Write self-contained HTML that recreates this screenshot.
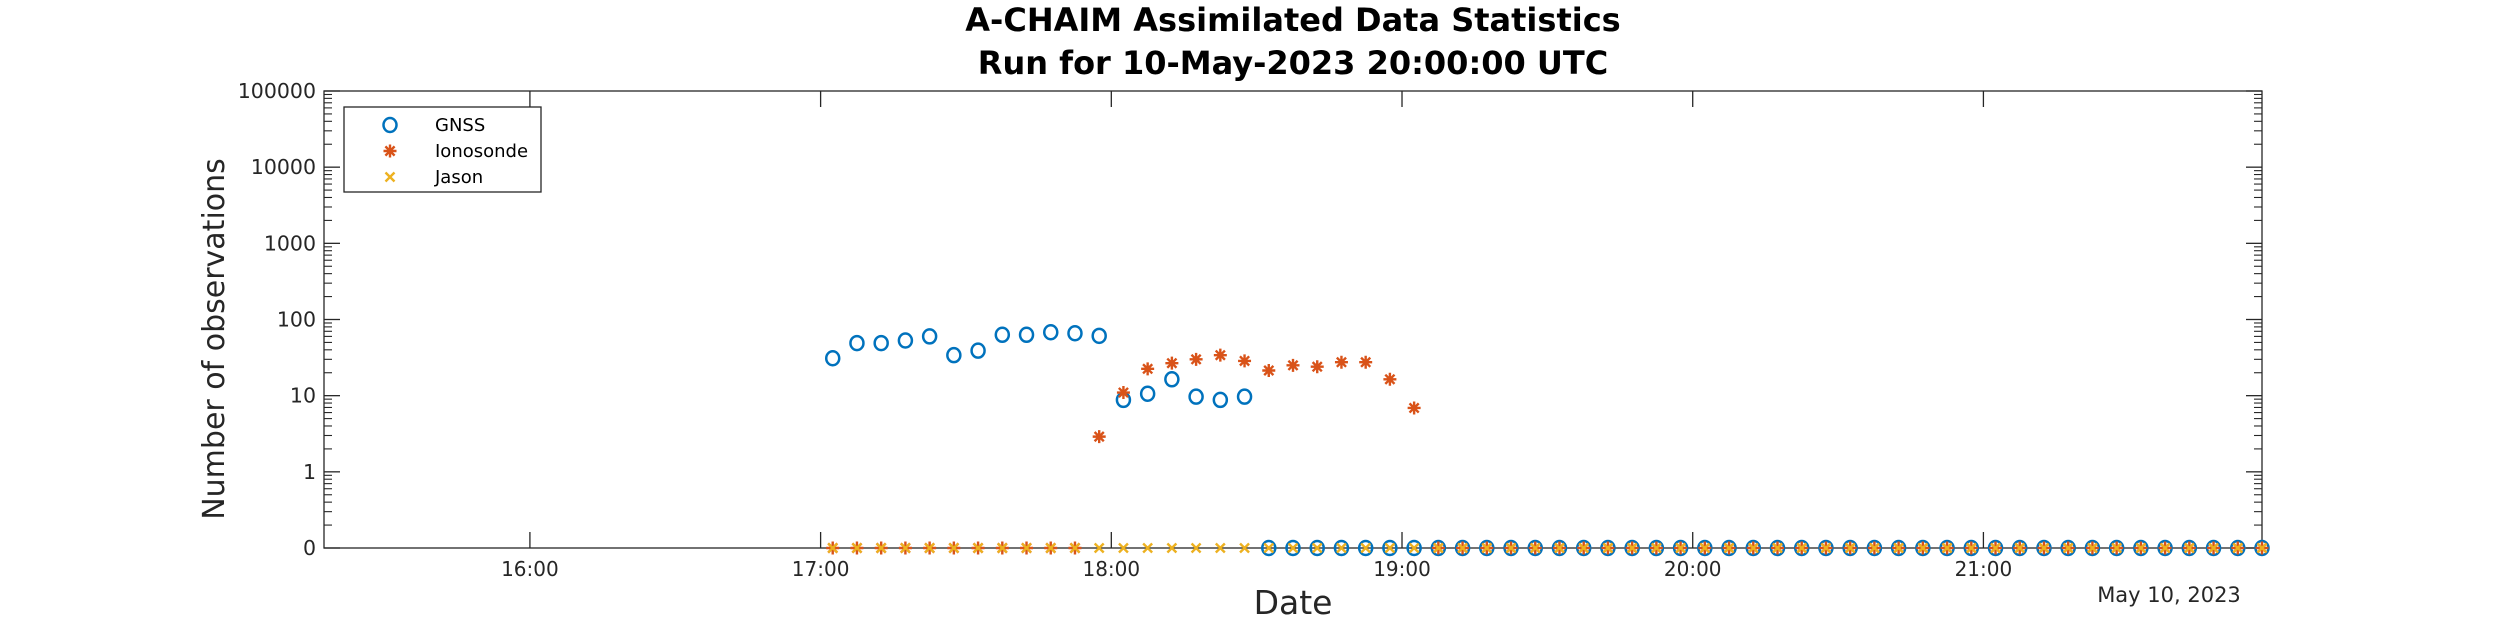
<!DOCTYPE html>
<html><head><meta charset="utf-8"><style>
html,body{margin:0;padding:0;background:#fff;}
svg{display:block;font-family:"DejaVu Sans","Liberation Sans",sans-serif;}
</style></head><body>
<svg id="chart" width="2500" height="625" viewBox="0 0 2500 625"></svg>
<script>
// ---- data ----
const startMinute = 17*60 + 2.5;   // first sample time (minutes since midnight)
const stepMinutes = 5;
const gnssValues = [31,49,49,53,60,34,39,63,63,68,66,61,8.8,10.6,16.4,9.7,8.8,9.7,
  0,0,0,0,0,0,0,0,0,0,0,0,0,0,0,0,0,0,0,0,0,0,0,0,0,0,0,0,0,0,0,0,0,0,0,0,0,0,0,0,0,0];
const ionoValues = [0,0,0,0,0,0,0,0,0,0,0,2.9,11,22.5,26.7,30,34,28.6,21.4,25,24,27.5,27.5,16.4,6.9,
  0,0,0,0,0,0,0,0,0,0,0,0,0,0,0,0,0,0,0,0,0,0,0,0,0,0,0,0,0,0,0,0,0,0,0];
const jasonValues = new Array(60).fill(0);
const xTickLabels = ["16:00","17:00","18:00","19:00","20:00","21:00"];
const xTickHours = [16,17,18,19,20,21];
const yTickLabels = ["0","1","10","100","1000","10000","100000"];
const yTickExps = [-1,0,1,2,3,4,5];

// ---- axes ----
const L=324,R=2262,T=91,B=548;
const xMin=15*60+17.5, xMax=21*60+57.5;
const x = m => L + (m-xMin)/(xMax-xMin)*(R-L);
const y = v => { const e = v<=0 ? -1 : Math.log10(v); return B - (e+1)/6*(B-T); };
const NS="http://www.w3.org/2000/svg";
const svg=document.getElementById('chart');
function mk(tag,attrs,parent){const e=document.createElementNS(NS,tag);for(const k in attrs)e.setAttribute(k,attrs[k]);(parent||svg).appendChild(e);return e;}

// titles
let t=mk('text',{x:1293,y:31,'text-anchor':'middle','font-size':'32','font-weight':'bold',fill:'#000'});t.textContent='A-CHAIM Assimilated Data Statistics';


t=mk('text',{x:1293,y:74,'text-anchor':'middle','font-size':'32','font-weight':'bold',fill:'#000'});t.textContent='Run for 10-May-2023 20:00:00 UTC';



// box
let box=mk('rect',{x:L,y:T,width:R-L,height:B-T,fill:'none',stroke:'#262626','stroke-width':1.3});



// x ticks
xTickHours.forEach((h,i)=>{
  const px=x(h*60);
  mk('line',{x1:px,x2:px,y1:B,y2:B-16,stroke:'#262626','stroke-width':1.3});
  mk('line',{x1:px,x2:px,y1:T,y2:T+16,stroke:'#262626','stroke-width':1.3});
  const tx=mk('text',{x:px,y:B+28,'text-anchor':'middle','font-size':'20',fill:'#262626'});tx.textContent=xTickLabels[i];
  
  
});
// y ticks
yTickExps.forEach((e,i)=>{
  const py=B-(e+1)/6*(B-T);
  mk('line',{x1:L,x2:L+16,y1:py,y2:py,stroke:'#262626','stroke-width':1.3});
  mk('line',{x1:R,x2:R-16,y1:py,y2:py,stroke:'#262626','stroke-width':1.3});
  const ty=mk('text',{x:L-8,y:py+7,'text-anchor':'end','font-size':'20.5',fill:'#262626'});ty.textContent=yTickLabels[i];
  
  
  if(e>=0&&e<5){for(let k=2;k<=9;k++){const my=y(k*Math.pow(10,e));
    mk('line',{x1:L,x2:L+8,y1:my,y2:my,stroke:'#262626','stroke-width':1.1});
    mk('line',{x1:R,x2:R-8,y1:my,y2:my,stroke:'#262626','stroke-width':1.1});}}
  if(e===-1){for(let k=2;k<=9;k++){const my=B-Math.log10(k)/6*(B-T);
    mk('line',{x1:L,x2:L+8,y1:my,y2:my,stroke:'#262626','stroke-width':1.1});
    mk('line',{x1:R,x2:R-8,y1:my,y2:my,stroke:'#262626','stroke-width':1.1});}}
});
t=mk('text',{x:0,y:0,'text-anchor':'middle','font-size':'30',fill:'#262626',transform:'translate(224,339) rotate(-90)'});t.textContent='Number of observations';


t=mk('text',{x:1293,y:614,'text-anchor':'middle','font-size':'33',fill:'#262626'});t.textContent='Date';


t=mk('text',{x:2169,y:602,'text-anchor':'middle','font-size':'21',fill:'#262626'});t.textContent='May 10, 2023';



// markers
function circle(px,py,g){return mk('ellipse',{cx:px,cy:py,rx:6.5,ry:7,fill:'none',stroke:'#0072BD','stroke-width':2.5},g);}
function star(px,py,g){const s=6.5,d=4.6;const p=mk('path',{d:`M${px-s},${py}H${px+s}M${px},${py-s}V${py+s}M${px-d},${py-d}L${px+d},${py+d}M${px-d},${py+d}L${px+d},${py-d}`,stroke:'#D95319','stroke-width':2.4,fill:'none'},g);return p;}
function cross(px,py,g){const d=4.5;return mk('path',{d:`M${px-d},${py-d}L${px+d},${py+d}M${px-d},${py+d}L${px+d},${py-d}`,stroke:'#EDB120','stroke-width':2.4,fill:'none'},g);}

const gG=mk('g',{});
const gI=mk('g',{});
const gJ=mk('g',{});
gnssValues.forEach((v,i)=>{const m=circle(x(startMinute+i*stepMinutes),y(v),gG);
  
  });
ionoValues.forEach((v,i)=>{const m=star(x(startMinute+i*stepMinutes),y(v),gI);
  
  });
jasonValues.forEach((v,i)=>{const m=cross(x(startMinute+i*stepMinutes),y(v),gJ);
  
  });

// legend
const lg=mk('g',{});
mk('rect',{x:344,y:107,width:197,height:85,fill:'#fff',stroke:'#262626','stroke-width':1.3},lg);
const names=['GNSS','Ionosonde','Jason'];const ly=[125,151,177];const fns=[circle,star,cross];
names.forEach((n,i)=>{const e=mk('g',{},lg);
  
  
  fns[i](390,ly[i],e);
  const tt=mk('text',{x:435,y:ly[i]+6,'font-size':'18',fill:'#000'},e);tt.textContent=n;});
</script>
</body></html>
